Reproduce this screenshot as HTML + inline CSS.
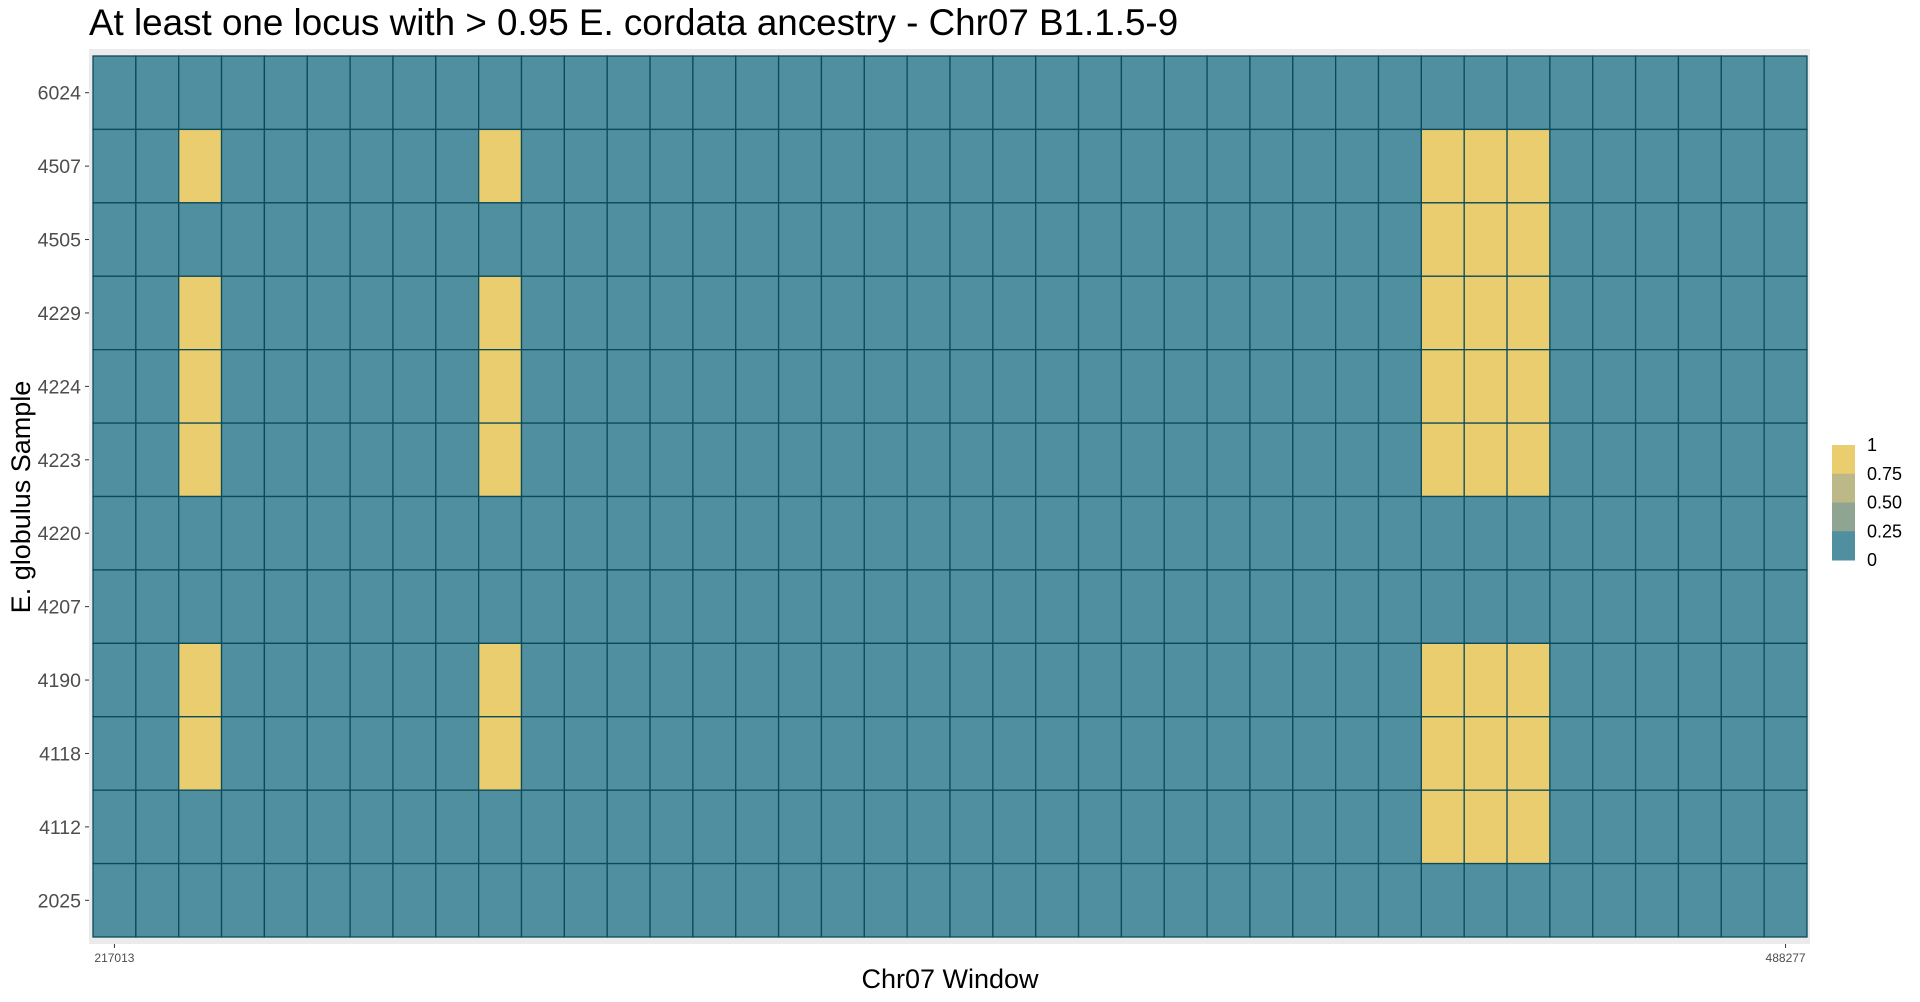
<!DOCTYPE html>
<html><head><meta charset="utf-8">
<style>
html,body{margin:0;padding:0;background:#fff;}
svg{display:block;font-family:"Liberation Sans",Arial,sans-serif;}
</style></head>
<body>
<svg id="chart" width="1920" height="1002" viewBox="0 0 1920 1002" xmlns="http://www.w3.org/2000/svg">
  <rect x="0" y="0" width="1920" height="1002" fill="#ffffff"/>
  <text x="89" y="35" font-size="36.8" fill="#000">At least one locus with &gt; 0.95 E. cordata ancestry - Chr07 B1.1.5-9</text>
  <rect x="89" y="49" width="1721" height="895" fill="#ebebeb"/>
  <g id="tiles"></g>
  <g id="yaxis"></g>
  <g id="xaxis"></g>
  <text x="950" y="988" font-size="27" text-anchor="middle" fill="#000">Chr07 Window</text>
  <text transform="translate(30,497) rotate(-90)" font-size="27" text-anchor="middle" fill="#000">E. globulus Sample</text>
  <g id="legend"></g>
</svg>
<script>
// data
const samples = ["6024","4507","4505","4229","4224","4223","4220","4207","4190","4118","4112","2025"];
const nWindows = 40;
const xTickLabels = ["217013","488277"];
const xTickIndex = [0,39];
// yellow (value 1) windows per sample
const highWindows = {
  "6024": [],
  "4507": [2,9,31,32,33],
  "4505": [31,32,33],
  "4229": [2,9,31,32,33],
  "4224": [2,9,31,32,33],
  "4223": [2,9,31,32,33],
  "4220": [],
  "4207": [],
  "4190": [2,9,31,32,33],
  "4118": [2,9,31,32,33],
  "4112": [31,32,33],
  "2025": []
};
const legendValues = ["1","0.75","0.50","0.25","0"];
const legendColors = ["#e9cd6f","#bdb887","#8fa491","#4f8f9f"];

const NS="http://www.w3.org/2000/svg";
const x0=93,x1=1807,y0=56,y1=937;
const cw=(x1-x0)/nWindows, rh=(y1-y0)/samples.length;
function xs(i){return x0+i*cw;}
function ys(r){return y0+r*rh;}
function color(v){return v>=0.5?"#e9cd6f":"#4f8f9f";}
const tiles=document.getElementById('tiles');
samples.forEach((s,r)=>{
  for(let i=0;i<nWindows;i++){
    const v=highWindows[s].includes(i)?1:0;
    const el=document.createElementNS(NS,'rect');
    
    
    el.setAttribute('x',xs(i));el.setAttribute('y',ys(r));
    el.setAttribute('width',cw);el.setAttribute('height',rh);
    el.setAttribute('fill',color(v));el.setAttribute('stroke','#0b4a5a');el.setAttribute('stroke-width','1.3');
    tiles.appendChild(el);
  }
});
const ya=document.getElementById('yaxis');
samples.forEach((s,r)=>{
  const cy=ys(r)+rh/2;
  const t=document.createElementNS(NS,'line');
  
  
  t.setAttribute('x1',85);t.setAttribute('x2',89);t.setAttribute('y1',cy);t.setAttribute('y2',cy);
  t.setAttribute('stroke','#333');t.setAttribute('stroke-width','1');
  ya.appendChild(t);
  const l=document.createElementNS(NS,'text');
  
  
  l.setAttribute('x',81);l.setAttribute('y',cy+7);l.setAttribute('font-size','19.5');
  l.setAttribute('text-anchor','end');l.setAttribute('fill','#4d4d4d');
  l.textContent=s;ya.appendChild(l);
});
const xa=document.getElementById('xaxis');
xTickLabels.forEach((lab,k)=>{
  const cx=xs(xTickIndex[k])+cw/2;
  const t=document.createElementNS(NS,'line');
  
  
  t.setAttribute('x1',cx);t.setAttribute('x2',cx);t.setAttribute('y1',944);t.setAttribute('y2',948);
  t.setAttribute('stroke','#333');ya.appendChild(t);
  const l=document.createElementNS(NS,'text');
  
  
  l.setAttribute('x',cx);l.setAttribute('y',962);l.setAttribute('font-size','12');
  l.setAttribute('text-anchor','middle');l.setAttribute('fill','#4d4d4d');
  l.textContent=lab;xa.appendChild(l);
});
const lg=document.getElementById('legend');
const ly0=445,ly1=560,segH=(ly1-ly0)/legendColors.length;
legendColors.forEach((c,i)=>{
  const el=document.createElementNS(NS,'rect');
  
  
  el.setAttribute('x',1832);el.setAttribute('y',ly0+i*segH);el.setAttribute('width',23);el.setAttribute('height',segH+0.5);
  el.setAttribute('fill',c);lg.appendChild(el);
});
legendValues.forEach((v,i)=>{
  const l=document.createElementNS(NS,'text');
  
  
  l.setAttribute('x',1867);l.setAttribute('y',ly0+i*(ly1-ly0)/(legendValues.length-1)+6);
  l.setAttribute('font-size','18');l.setAttribute('fill','#000');
  l.textContent=v;lg.appendChild(l);
});
</script>
</body></html>
